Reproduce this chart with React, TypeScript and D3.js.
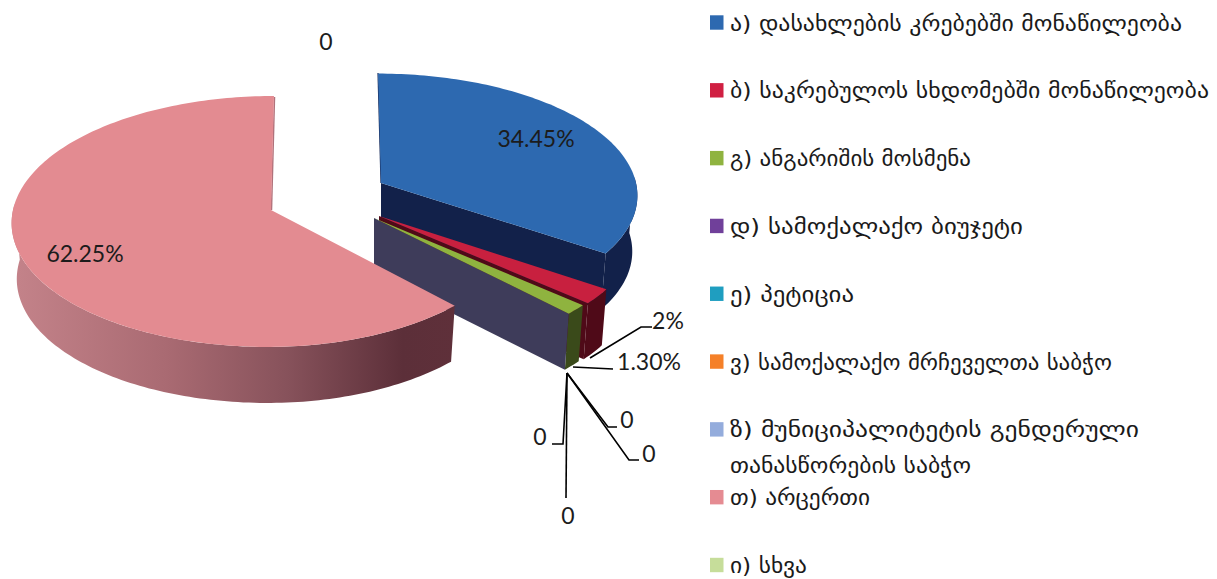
import React from "react";
import * as d3 from "d3";

// Survey shares, in legend order
const categories = [
  "ა) დასახლების კრებებში მონაწილეობა",
  "ბ) საკრებულოს სხდომებში მონაწილეობა",
  "გ) ანგარიშის მოსმენა",
  "დ) სამოქალაქო ბიუჯეტი",
  "ე) პეტიცია",
  "ვ) სამოქალაქო მრჩეველთა საბჭო",
  "ზ) მუნიციპალიტეტის გენდერული",
  "თ) არცერთი",
  "ი) სხვა",
];
const wrappedLine = "თანასწორების საბჭო";
const values = [34.45, 2, 1.3, 0, 0, 0, 0, 62.25, 0];
const valueLabels = ["34.45%", "2%", "1.30%", "0", "0", "0", "0", "62.25%", "0"];
const swatchColors = ["#2d69b0", "#d01f42", "#8fb33f", "#70409a", "#1f9ec0", "#f58028", "#94acdc", "#e58b92", "#c6dd9a"];

// Fitted text widths for the legend lines
const legendWidths = [452, 479, 241, 293, 124, 382, 409, 140, 77];
const wrappedWidth = 241;

const WIDTH = 1217;
const HEIGHT = 579;
const DEPTH = 56;
const RY = 124.4;
const PERSPECTIVE = 0.0916;
const BOTTOM_SHRINK = 0.98;
const LABEL_FONT = "Lato, 'Open Sans', sans-serif";

const arcs = d3.pie<number>().sort(null).value((d) => d)(values);

type Placement = { x: number; y: number; lean: number; rxRight: number; rxLeft: number; ryScale: number };

// Exploded slice apex and radii per visible slice index
const placements: Record<number, Placement> = {
  0: { x: 381, y: 183, lean: 0.027, rxRight: 255, rxLeft: 255, ryScale: 0.96 },
  1: { x: 379, y: 216, lean: 0.027, rxRight: 258, rxLeft: 258, ryScale: 1 },
  2: { x: 374, y: 218, lean: 0.027, rxRight: 258, rxLeft: 258, ryScale: 1 },
  7: { x: 271, y: 210, lean: -0.026, rxRight: 250, rxLeft: 258, ryScale: 1 },
};

// Perspective projection of a rim angle (clockwise from the top) onto the page
function rim(p: Placement, t: number, drop = 0): [number, number] {
  const u = Math.sin(t);
  const v = -Math.cos(t);
  const w = 1 - PERSPECTIVE * v;
  const yy = (RY * p.ryScale * v) / w;
  const shrink = drop > 0 ? BOTTOM_SHRINK : 1;
  const rx = u >= 0 ? p.rxRight : p.rxLeft;
  const xx = ((rx * u) / w + p.lean * yy) * shrink;
  return [p.x + xx, p.y + yy + drop];
}

const pathOf = d3.line();

function sampleAngles(a0: number, a1: number): number[] {
  const n = Math.max(2, Math.ceil(Math.abs(a1 - a0) / 0.02));
  const s = d3.scaleLinear().domain([0, n]).range([a0, a1]);
  return d3.range(n + 1).map((i) => s(i));
}

function topFace(i: number): string {
  const p = placements[i];
  const a = arcs[i];
  const pts = sampleAngles(a.startAngle, a.endAngle).map((t) => rim(p, t));
  return pathOf([[p.x, p.y], ...pts])! + "Z";
}

// The wall only runs along the front half of the rim, between the silhouette extremes
function outerWall(i: number): string {
  const p = placements[i];
  const a = arcs[i];
  const from = Math.max(a.startAngle, Math.PI / 2 - 0.05);
  const to = Math.min(a.endAngle, (3 * Math.PI) / 2 + 0.05);
  const ts = sampleAngles(from, to);
  const top = ts.map((t) => rim(p, t));
  const bottom = ts.map((t) => rim(p, t, DEPTH)).reverse();
  return pathOf([...top, ...bottom])! + "Z";
}

function endFace(i: number): string {
  const p = placements[i];
  const e = arcs[i].endAngle;
  return pathOf([[p.x, p.y], rim(p, e), rim(p, e, DEPTH), [p.x, p.y + DEPTH]])! + "Z";
}

const legendY = d3.scaleLinear().domain([0, 8]).range([22.5, 565]);

// Callout labels with their bent leader lines
const anchor: [number, number] = [567, 373];
const callouts = [
  { index: 1, pts: [[590, 358], [641, 327], [652, 327]], x: 668, y: 329 },
  { index: 2, pts: [[573, 367], [613, 369]], x: 649, y: 370 },
  { index: 3, pts: [anchor, [563, 444], [552, 444]], x: 540, y: 445 },
  { index: 4, pts: [anchor, [566, 498]], x: 568, y: 524 },
  { index: 5, pts: [anchor, [608, 427], [617, 427]], x: 627, y: 428 },
  { index: 6, pts: [anchor, [629, 460], [639, 460]], x: 649, y: 462 },
];

export default function App() {
  const blue = placements[0];
  const pink = placements[7];
  return (
    <svg
      width={WIDTH}
      height={HEIGHT}
      viewBox={`0 0 ${WIDTH} ${HEIGHT}`}
      style={{ position: "absolute", left: 0, top: 0, background: "#fff" }}
    >
      <defs>
        <linearGradient id="pinkWall" gradientUnits="userSpaceOnUse" x1={12} y1={0} x2={456} y2={0}>
          <stop offset="0" stopColor="#c4838a" />
          <stop offset="0.35" stopColor="#a96a72" />
          <stop offset="0.62" stopColor="#87525b" />
          <stop offset="0.88" stopColor="#5c2f39" />
          <stop offset="1" stopColor="#5f303a" />
        </linearGradient>
      </defs>

      {/* Blue slice */}
      <path d={outerWall(0)} fill="#12214a" />
      <path d={endFace(0)} fill="#12214a" />
      <line x1={blue.x - 3} y1={73} x2={blue.x} y2={blue.y} stroke="#1a2d5c" strokeWidth={1.2} />
      <path d={topFace(0)} fill={swatchColors[0]} />

      {/* Red slice */}
      <path d={outerWall(1)} fill="#4f0a18" />
      <path d={endFace(1)} fill="#4f0a18" />
      <path d={topFace(1)} fill="#c8203f" />

      {/* Green slice, with the cut face shared by the empty slices */}
      <path d={outerWall(2)} fill="#3a4a1a" />
      <path d={endFace(2)} fill="#3e3c5a" />
      <path d={topFace(2)} fill="#8fb33f" />

      {/* Pink slice */}
      <path d={outerWall(7)} fill="url(#pinkWall)" />
      <line x1={pink.x + 3.5} y1={97} x2={pink.x + 0.5} y2={pink.y} stroke="#b0727b" strokeWidth={1.5} />
      <path d={topFace(7)} fill="#e38b91" />

      {/* Leader lines */}
      <g fill="none" stroke="#000" strokeWidth={1.6}>
        {callouts.map((c) => (
          <path key={c.index} d={pathOf(c.pts as [number, number][])!} />
        ))}
      </g>

      {/* Value labels */}
      <g fontFamily={LABEL_FONT} fontSize={23} fill="#1c1c1c" textAnchor="middle">
        <text x={536} y={147}>{valueLabels[0]}</text>
        <text x={85} y={262}>{valueLabels[7]}</text>
        <text x={326} y={50}>{valueLabels[8]}</text>
        {callouts.map((c) => (
          <text key={c.index} x={c.x} y={c.y}>{valueLabels[c.index]}</text>
        ))}
      </g>

      {/* Legend */}
      <g fontFamily="'DejaVu Sans', sans-serif" fontSize={22} fill="#1a1a1a">
        {categories.map((name, i) => (
          <g key={name}>
            <rect x={710} y={legendY(i) - 7.2} width={13.5} height={14.4} fill={swatchColors[i]} />
            <text
              x={730}
              y={legendY(i) + 8}
              textLength={legendWidths[i]}
              lengthAdjust="spacingAndGlyphs"
            >
              {name}
            </text>
          </g>
        ))}
        <text x={730} y={473} textLength={wrappedWidth} lengthAdjust="spacingAndGlyphs">
          {wrappedLine}
        </text>
      </g>
    </svg>
  );
}
